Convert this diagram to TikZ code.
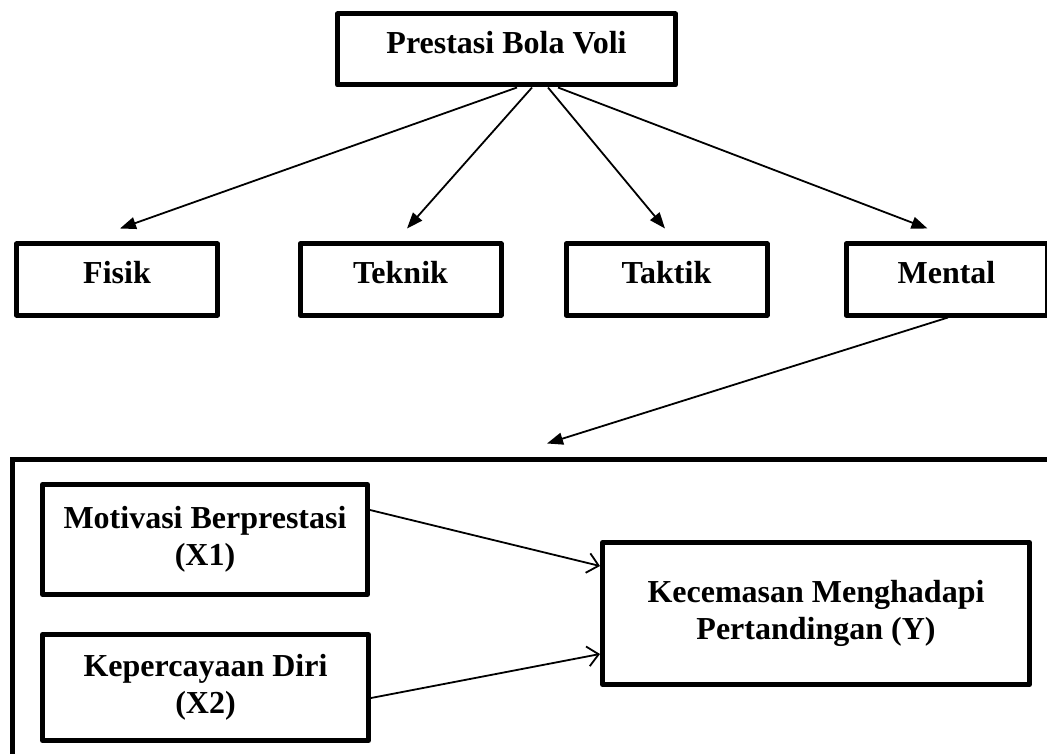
\documentclass[tikz,border=0pt]{standalone}
\usepackage{fontspec}
\setmainfont{Liberation Serif}
\usetikzlibrary{arrows.meta}
\tikzset{
  lbl/.style={font=\fontsize{32}{37}\selectfont\bfseries},
  onebox/.style={draw, line width=5pt, line join=round, lbl, inner sep=0pt,
    text height=21pt, text depth=13pt, minimum width=201pt, minimum height=71pt},
  twobox/.style={draw, line width=5pt, line join=round, lbl, inner sep=0pt, align=center},
  fillarrow/.style={line width=1.8pt, -{Triangle[length=16pt,width=12pt]}},
  openarrow/.style={line width=1.8pt, -{Straight Barb[length=11pt,width=20pt,line width=1.8pt]}}
}
\begin{document}
\begin{tikzpicture}[x=1pt,y=-1pt]
\useasboundingbox (0,0) rectangle (1047,754);
\clip (0,0) rectangle (1047,754);
\fill[white] (0,0) rectangle (1047,754);

\node[onebox, minimum width=338pt] (top) at (506.5,49.5) {Prestasi Bola Voli};
\node[onebox] (fisik) at (117,279.5) {Fisik};
\node[onebox] (teknik) at (400.5,279.5) {Teknik};
\node[onebox] (taktik) at (666.5,279.5) {Taktik};
\node[onebox] (mental) at (946.5,279.5) {Mental};

\node[draw, line width=5pt, minimum width=1056pt, minimum height=322pt] (frame) at (540,620) {};

\node[twobox, minimum width=325pt, minimum height=110pt] (motiv) at (205,539.5) {Motivasi Berprestasi\\(X1)};
\node[twobox, minimum width=326pt, minimum height=106pt] (kepe) at (205.5,687.5) {Kepercayaan Diri\\(X2)};
\node[twobox, minimum width=427pt, minimum height=142pt] (kecem) at (816,613.5) {Kecemasan Menghadapi\\Pertandingan (Y)};

\draw[fillarrow] ([xshift=10.5pt]top.south) -- ([xshift=3pt,yshift=13pt]fisik.north);
\draw[fillarrow] ([xshift=25.5pt]top.south) -- ([xshift=6.5pt,yshift=13pt]teknik.north);
\draw[fillarrow] ([xshift=41.5pt]top.south) -- ([xshift=-1.5pt,yshift=13pt]taktik.north);
\draw[fillarrow] ([xshift=51.5pt]top.south) -- ([xshift=-19pt,yshift=13pt]mental.north);
\draw[fillarrow] ([xshift=1.5pt]mental.south) -- ([xshift=7pt,yshift=13pt]frame.north);

\draw[openarrow] ([yshift=29.5pt]motiv.east) -- ([yshift=47.5pt]kecem.west);
\draw[openarrow] ([yshift=-10.5pt]kepe.east) -- ([yshift=-40.5pt]kecem.west);
\end{tikzpicture}
\end{document}
